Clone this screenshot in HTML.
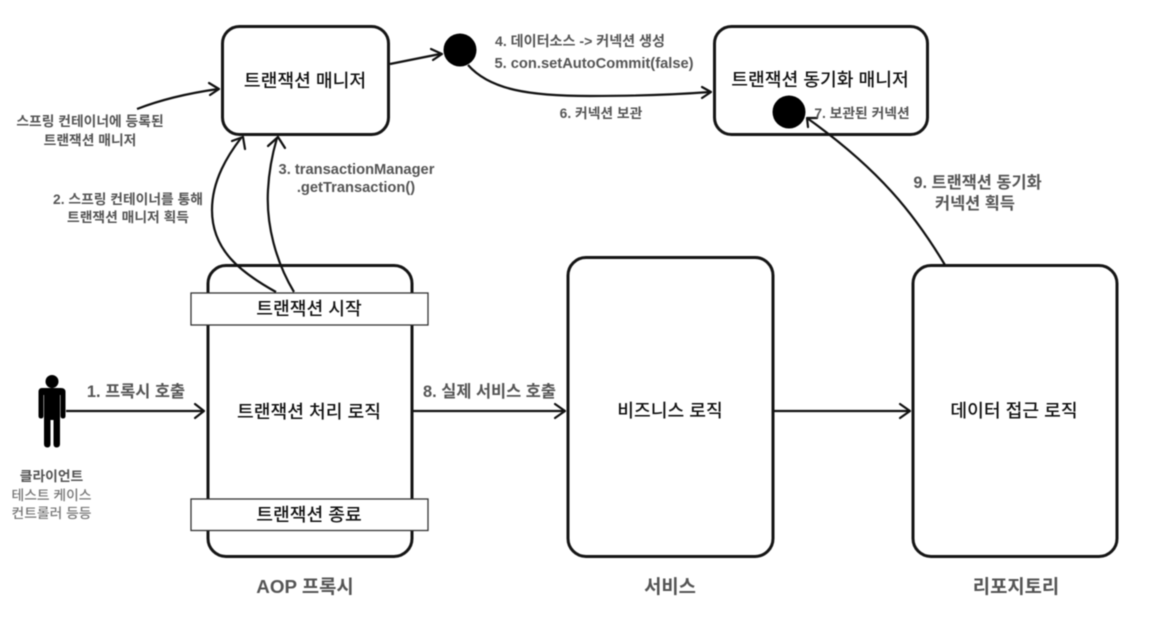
<!DOCTYPE html>
<html lang="ko">
<head>
<meta charset="utf-8">
<style>
html,body{margin:0;padding:0;background:#fff;width:1156px;height:640px;overflow:hidden}
svg{display:block;filter:blur(.55px)}
text{font-family:"Liberation Sans","Noto Sans CJK KR",sans-serif;text-anchor:middle}
.m{font-size:18.2px;font-weight:500;fill:#111}
.l{font-size:13.8px;font-weight:700;fill:#555}
.lg{font-size:16.4px;font-weight:700;fill:#555}
.e{font-size:14.7px;font-weight:700;fill:#555}
.c{font-size:18.8px;font-weight:700;fill:#555}
.box{fill:#fff;stroke:#151515;stroke-width:3}
.ln{fill:none;stroke:#111;stroke-width:2.2}
.ah{fill:none;stroke:#111;stroke-width:2.2;stroke-linecap:round;stroke-linejoin:round}
.band{fill:#fff;stroke:#333;stroke-width:1.3}
</style>
</head>
<body>
<svg width="1156" height="640" viewBox="0 0 1156 640" xmlns="http://www.w3.org/2000/svg">
<rect width="1156" height="640" fill="#fff"/>

<rect class="box" x="222.500" y="26.500" width="166" height="108" rx="17"/>
<rect class="box" x="714.500" y="26.500" width="213" height="108" rx="17"/>
<rect class="box" x="208" y="265.500" width="204" height="291" rx="18"/>
<rect class="box" x="568" y="257.500" width="205" height="299" rx="18"/>
<rect class="box" x="913" y="265.500" width="204" height="291" rx="18"/>

<rect class="band" x="191" y="293" width="237" height="32"/>
<rect class="band" x="191" y="499" width="237" height="31.500"/>

<circle cx="460" cy="50" r="16.500" fill="#000"/>
<circle cx="789" cy="112" r="16.500" fill="#000"/>

<path class="ln" d="M137 109C160 100 190 93 218 89"/>
<path class="ah" d="M209 83L219 89L210 95"/>
<path class="ln" d="M276 292C240 272 212 250 212 210C212 180 228 155 241 138"/>
<path class="ah" d="M232 141L243 137L245 149"/>
<path class="ln" d="M294 292C276 262 266 225 268 190C269 170 272 155 277 138"/>
<path class="ah" d="M268 146L278 137L285 148"/>
<path class="ln" d="M390 64L440 54"/>
<path class="ah" d="M431 49L442 54L433 60"/>
<path class="ln" d="M468 65C490 90 530 96 590 96C630 96 670 95 710 92"/>
<path class="ah" d="M702 87L711 92L702 98"/>
<path class="ln" d="M945 265C915 215 880 170 807 118"/>
<path class="ah" d="M808 127L807 118L817 118"/>
<path class="ln" d="M66 411H203"/>
<path class="ah" d="M195 404L204 411L195 418"/>
<path class="ln" d="M413 411H563"/>
<path class="ah" d="M555 404L565 411L555 418"/>
<path class="ln" d="M773 411H908"/>
<path class="ah" d="M900 404L910 411L900 418"/>

<g fill="#000">
<circle cx="52" cy="381.500" r="6.500"/>
<path d="M42 388H61Q65.500 388 65.500 392V416Q65.500 418.500 63 418.500Q60.500 418.500 60.500 416V395H60V444Q60 447.500 56.500 447.500Q53.500 447.500 53.500 444V420H50.500V444Q50.500 447.500 47.500 447.500Q44 447.500 44 444V395H43.500V416Q43.500 418.500 41 418.500Q38.500 418.500 38.500 416V392Q38.500 388 42 388Z"/>
</g>

<text class="m" x="305" y="87">트랜잭션 매니저</text>
<text class="m" x="820" y="86">트랜잭션 동기화 매니저</text>
<text class="m" x="309" y="315">트랜잭션 시작</text>
<text class="m" x="309" y="418">트랜잭션 처리 로직</text>
<text class="m" x="309" y="521">트랜잭션 종료</text>
<text class="m" x="670" y="417">비즈니스 로직</text>
<text class="m" x="1014" y="417">데이터 접근 로직</text>

<text class="l" x="90" y="126">스프링 컨테이너에 등록된</text>
<text class="l" x="90" y="145">트랜잭션 매니저</text>
<text class="l" x="128" y="204">2. 스프링 컨테이너를 통해</text>
<text class="l" x="128" y="222">트랜잭션 매니저 획득</text>
<text class="e" x="356.500" y="174">3. transactionManager</text>
<text class="e" x="356" y="192">.getTransaction()</text>
<text class="l" x="580" y="46" style="font-size:14.1px">4. 데이터소스 -&gt; 커넥션 생성</text>
<text class="e" x="594" y="68">5. con.setAutoCommit(false)</text>
<text class="l" x="601" y="118">6. 커넥션 보관</text>
<text class="l" x="862" y="118">7. 보관된 커넥션</text>
<text class="lg" x="977.500" y="188">9. 트랜잭션 동기화</text>
<text class="lg" x="975" y="209">커넥션 획득</text>
<text class="lg" x="136" y="397">1. 프록시 호출</text>
<text class="lg" x="489.500" y="397">8. 실제 서비스 호출</text>
<text class="l" x="51.500" y="481">클라이언트</text>
<text class="l" x="51.500" y="500" style="font-weight:500;fill:#777">테스트 케이스</text>
<text class="l" x="51.500" y="518" style="font-weight:500;fill:#777">컨트롤러 등등</text>

<text class="c" x="305" y="593">AOP 프록시</text>
<text class="c" x="670" y="593">서비스</text>
<text class="c" x="1016" y="593">리포지토리</text>
</svg>
</body>
</html>
